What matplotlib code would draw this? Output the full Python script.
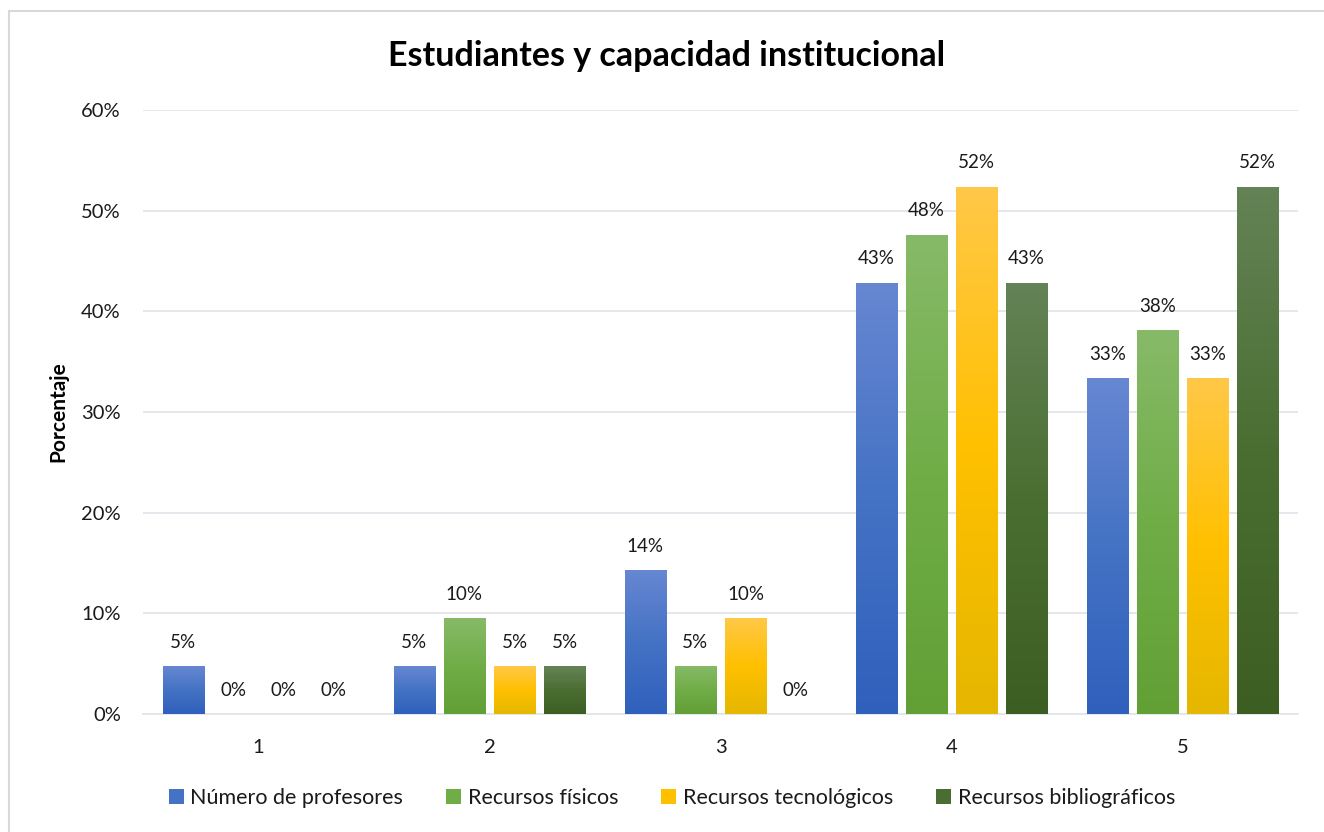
import matplotlib
matplotlib.use("Agg")
import matplotlib.pyplot as plt
import numpy as np
from matplotlib.colors import LinearSegmentedColormap
from matplotlib.patches import Patch, Rectangle
from matplotlib.ticker import FuncFormatter

plt.rcParams['font.family'] = ['Lato', 'DejaVu Sans']

categories = ["1", "2", "3", "4", "5"]
series_names = ["Número de profesores", "Recursos físicos",
                "Recursos tecnológicos", "Recursos bibliográficos"]
profesores = [4.76, 4.76, 14.29, 42.86, 33.33]
fisicos = [0.0, 9.52, 4.76, 47.62, 38.10]
tecnologicos = [0.0, 4.76, 9.52, 52.38, 33.33]
bibliograficos = [0.0, 4.76, 0.0, 42.86, 52.38]
series_values = [profesores, fisicos, tecnologicos, bibliograficos]
yticks = [0, 10, 20, 30, 40, 50, 60]

top_colors = ["#6787D2", "#87BA68", "#FFC848", "#648356"]
mid_colors = ["#4472C4", "#70AD47", "#FFC000", "#4A6E32"]
bot_colors = ["#2F60BC", "#62A036", "#E5B700", "#3D5E22"]

fig = plt.figure(figsize=(13.24, 8.32), dpi=100)
ax = fig.add_axes([143/1324, 1-714/832, (1298-143)/1324, (714-110)/832])

# figure border (light gray)
fig.add_artist(Rectangle((9/1324, -0.05), 1.2, 1-11/832+0.05, transform=fig.transFigure,
                         fill=False, edgecolor="#D9D9D9", linewidth=1.5))

x = np.arange(len(categories))
pitch = 0.217
width = 0.178
offsets = (np.arange(4) - 1.5) * pitch

ax.set_xlim(-0.5, len(categories) - 0.5)
ax.set_ylim(0, 60)

for i, vals in enumerate(series_values):
    bars = ax.bar(x + offsets[i], vals, width=width, color=mid_colors[i], zorder=2)
    cmap = LinearSegmentedColormap.from_list(f"g{i}", [bot_colors[i], mid_colors[i], top_colors[i]])
    for b, v in zip(bars, vals):
        if v > 0:
            x0 = b.get_x()
            grad = np.linspace(0, 1, 256).reshape(-1, 1)
            im = ax.imshow(grad, extent=[x0, x0 + b.get_width(), 0, v], origin="lower",
                           cmap=cmap, aspect="auto", zorder=3, interpolation="bilinear")
            im.set_clip_path(b)
        ax.annotate(f"{v:.0f}%", (b.get_x() + b.get_width() / 2, v),
                    xytext=(0, 11), textcoords="offset points",
                    ha="center", va="bottom", fontsize=13.5, color="#1A1A1A", zorder=4)

ax.set_xlim(-0.5, len(categories) - 0.5)
ax.set_ylim(0, 60)
ax.set_yticks(yticks)
ax.yaxis.set_major_formatter(FuncFormatter(lambda v, p: f"{v:.0f}%"))
ax.set_xticks(x)
ax.set_xticklabels(categories)
ax.tick_params(axis="both", length=0, labelsize=14.5, colors="#1A1A1A")
ax.tick_params(axis="y", pad=16)
ax.tick_params(axis="x", pad=18)
ax.grid(axis="y", color="#E2E5EA", linewidth=1.3, zorder=0)
ax.set_axisbelow(True)
for s in ["top", "right", "left"]:
    ax.spines[s].set_visible(False)
ax.spines["bottom"].set_color("#E2E5EA")
ax.spines["bottom"].set_linewidth(1.3)

fig.text(667/1324, 1-56/832, "Estudiantes y capacidad institucional",
         ha="center", va="center", fontsize=24.5, fontweight="bold", color="#000000")
fig.text(58/1324, 1-412/832, "Porcentaje", rotation=90, ha="center", va="center",
         fontsize=15, fontweight="bold", color="#000000")

handles = [Patch(facecolor=mid_colors[i], edgecolor="none") for i in range(4)]
fig.legend(handles, series_names, loc="center", bbox_to_anchor=(672/1324, 1-798/832),
           ncol=4, frameon=False, fontsize=15.5, handlelength=0.7, handleheight=0.7,
           handletextpad=0.3, columnspacing=2.0, labelcolor="#1A1A1A")

fig.savefig("out.png", dpi=100)
